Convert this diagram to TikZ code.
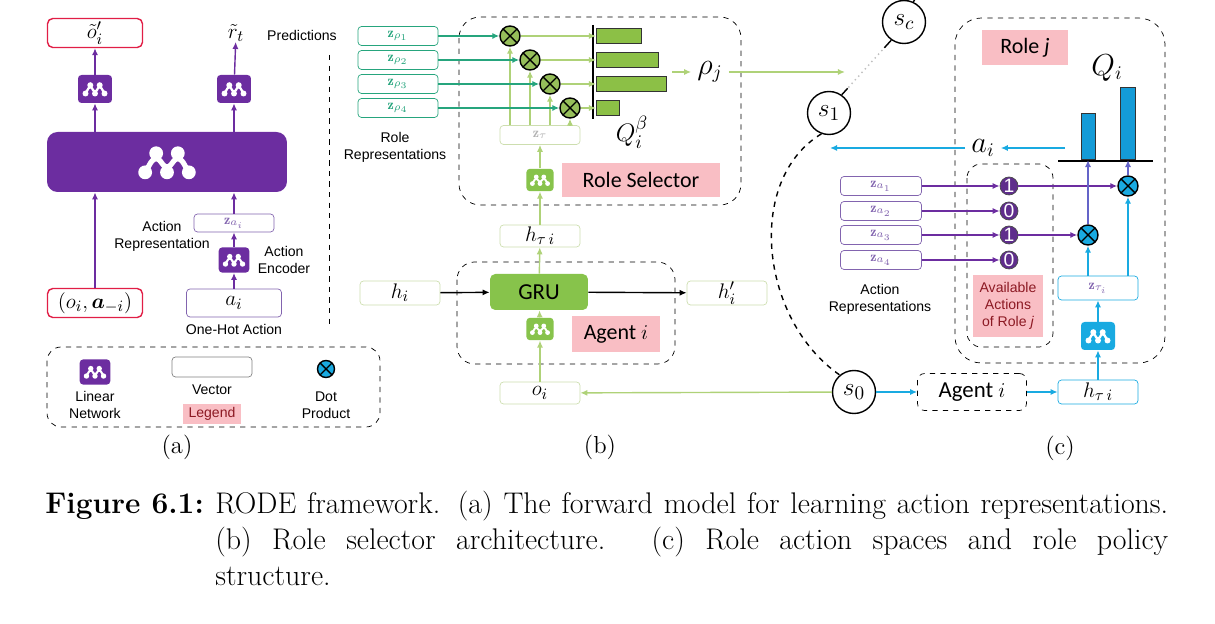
\documentclass[tikz,border=0pt]{standalone}
\usepackage{fontspec}
\usepackage{bm}
\newfontfamily\arialf{Liberation Sans}
\newfontfamily\calf{Carlito}
\usetikzlibrary{arrows.meta,calc}
\definecolor{rpurple}{RGB}{108,45,160}
\definecolor{rred}{RGB}{225,30,70}
\definecolor{rteal}{RGB}{38,165,125}
\definecolor{gdot}{RGB}{150,190,90}
\definecolor{ggreen}{RGB}{135,195,75}
\definecolor{lgreen}{RGB}{175,210,120}
\definecolor{gbord}{RGB}{205,222,175}
\definecolor{bgreen}{RGB}{140,192,70}
\definecolor{rcyan}{RGB}{25,170,225}
\definecolor{bblue}{RGB}{20,155,215}
\definecolor{rpink}{RGB}{249,190,196}
\definecolor{bitpurple}{RGB}{95,45,140}
\definecolor{zagray}{RGB}{130,100,175}
\definecolor{qblue}{RGB}{100,100,200}
\definecolor{lblred}{RGB}{140,25,35}
\newcommand{\mlogo}[1]{%
  \begin{scope}[shift={(path picture bounding box.center)}, white]
    \draw[line width=#1*1.3pt] (-9.5*#1, 4.5*#1) -- (-4.7*#1, -3.8*#1) -- (0, 4.5*#1) -- (4.7*#1, -3.8*#1) -- (9.5*#1, 4.5*#1);
    \foreach \lx/\ly in {-9.5/4.5, -4.7/-3.8, 0/4.5, 4.7/-3.8, 9.5/4.5}
      \fill (\lx*#1, \ly*#1) circle[radius=3*#1];
  \end{scope}}
\begin{document}
\begin{tikzpicture}[x=0.02cm, y=-0.02cm,
    lbl/.style={font=\arialf\fontsize{8}{9.6}\selectfont, align=center, inner sep=0pt},
    mth/.style={font=\fontsize{13}{15}\selectfont, inner sep=0pt},
    sub/.style={font=\fontsize{14}{16}\selectfont},
    vecbox/.style={draw=#1, rounded corners=2pt, fill=white, minimum width=1.6cm, minimum height=0.4cm, inner sep=0pt},
    redbox/.style={draw=rred, thick, rounded corners=3pt, minimum width=1.9cm, minimum height=0.58cm, inner sep=0pt, font=\fontsize{13}{15}\selectfont},
    lnet/.style 2 args={fill=#1, rounded corners=2pt, minimum width=#2*0.68cm, minimum height=#2*0.56cm, inner sep=0pt, path picture={\mlogo{#2}}},
    dotp/.style={circle, draw=black, thick, fill=#1, minimum size=0.4cm, inner sep=0pt, path picture={\draw[thick] (path picture bounding box.north west) -- (path picture bounding box.south east) (path picture bounding box.north east) -- (path picture bounding box.south west);}},
    bit/.style={circle, draw=black!70, fill=bitpurple, text=white, minimum size=0.36cm, inner sep=0pt, font=\arialf\fontsize{11}{11}\selectfont},
    pinklbl/.style={fill=rpink, inner sep=0pt, font=\calf\fontsize{12.5}{14}\selectfont},
    snode/.style={circle, draw, thick, minimum size=0.86cm, inner sep=0pt, font=\fontsize{15}{17}\selectfont},
    capt/.style={anchor=north west, inner sep=0pt, font=\fontsize{17}{20.4}\selectfont},
    parr/.style={draw=rpurple, thick, -{Latex[length=4pt, width=3.5pt]}},
    garr/.style={draw=lgreen, thick, -{Latex[length=4pt, width=3.5pt]}},
    tarr/.style={draw=rteal, thick, -{Latex[length=4pt, width=3.5pt]}},
    carr/.style={draw=rcyan, thick, -{Latex[length=4pt, width=3.5pt]}},
    qarr/.style={draw=qblue, thick, -{Latex[length=4pt, width=3.5pt]}},
    barr/.style={draw=black, thick, -{Latex[length=4pt, width=3.5pt]}}
  ]
\useasboundingbox (0, 0) rectangle (1215, 624);

\node (opred) at (95, 33)[redbox]{$\tilde{o}'_i$};
\node (rtil) at (236, 33)[mth]{$\tilde{r}_t$};
\node (predl) at (302, 35)[lbl]{Predictions};
\node (lna1) at (95, 89)[lnet={rpurple}{1}]{};
\node (lna2) at (234, 89)[lnet={rpurple}{1}]{};
\node (bignet) at (167, 162)[lnet={rpurple}{2.3}, minimum width=4.8cm, minimum height=1.2cm, rounded corners=6pt]{};
\node (zai) at (234, 223)[vecbox=zagray, minimum height=0.36cm, text=zagray]{\footnotesize$\mathbf{z}_{a_i}$};
\node (actrep) at (162, 236)[lbl]{Action\\Representation};
\node (enc) at (234, 260)[lnet={rpurple}{0.9}]{};
\node (encl) at (284, 260)[lbl]{Action\\Encoder};
\node (oa) at (95, 303)[redbox]{$(o_i, \bm{a}_{-i})$};
\node (ai) at (234, 303)[vecbox=zagray, minimum width=1.9cm, minimum height=0.56cm, font=\fontsize{13}{15}\selectfont]{$a_i$};
\node (onehot) at (234, 329)[lbl]{One-Hot Action};
\draw[parr] (oa) -- (oa |- bignet.south);
\draw[parr] (ai) -- (enc);
\draw[parr] (enc) -- (zai);
\draw[parr] (zai) -- (zai |- bignet.south);
\draw[parr] (lna1 |- bignet.north) -- (lna1);
\draw[parr] (lna2 |- bignet.north) -- (lna2);
\draw[parr] (lna1) -- (opred);
\draw[parr] (lna2) -- (rtil);
\draw[dashed] (329, 55) -- (329, 325);

\draw[dashed, rounded corners=8pt] (47, 347) rectangle (380, 427);
\node (lgnet) at (95, 372)[lnet={rpurple}{0.9}]{};
\node (lgnetl) at (95, 405)[lbl]{Linear\\Network};
\node (lgvec) at (212, 367)[vecbox=gray]{};
\node (lgvecl) at (212, 390)[lbl]{Vector};
\node (lglbl) at (212, 414)[fill=rpink, minimum width=1.16cm, minimum height=0.4cm, lbl, text=lblred]{Legend};
\node (lgdot) at (326, 369)[dotp=rcyan, minimum size=0.34cm]{};
\node (lgdotl) at (326, 405)[lbl]{Dot\\Product};
\node (laba) at (177, 447)[sub]{(a)};

\foreach \k/\y in {1/36, 2/60, 3/84, 4/108}
  \node (zr\k) at (398, \y)[vecbox=rteal, minimum height=0.38cm, text=rteal]{\footnotesize$\mathbf{z}_{\rho_\k}$};
\node (rolerep) at (395, 147)[lbl]{Role\\Representations};
\draw[dashed, rounded corners=12pt] (459, 17) rectangle (741, 205);
\foreach \k/\x/\y in {1/510/36, 2/530/60, 3/550/84, 4/570/108}
  \node (dp\k) at (\x, \y)[dotp=gdot]{};
\foreach \k/\y/\w in {1/36/45, 2/60/62, 3/84/70, 4/108/23}
  \node (bar\k) at (596, \y)[anchor=west, draw=black!80, fill=bgreen, minimum width=\w*0.02cm, minimum height=0.29cm, inner sep=0pt]{};
\draw[very thick] (593, 25) -- (593, 119);
\node (ztau) at (540, 135)[vecbox=gbord, text=black!30, minimum height=0.38cm]{\footnotesize$\mathbf{z}_\tau$};
\foreach \k in {1,...,4}
  {
    \draw[tarr] (zr\k) -- (dp\k);
    \draw[garr] (dp\k) -- (bar\k.west);
    \draw[garr] (dp\k |- ztau.north) -- (dp\k);
  }
\node (qb) at (632, 132)[font=\fontsize{15}{17}\selectfont]{$Q_i^\beta$};
\node (rhoj) at (710, 72)[font=\fontsize{16}{18}\selectfont]{$\rho_j$};
\coordinate (qout) at (672, 72);
\coordinate (rhoend) at (845, 72);
\draw[garr] (qout) -- (rhoj);
\draw[garr] (rhoj) -- (rhoend);
\node (lnb1) at (540, 180)[lnet={ggreen}{0.8}]{};
\node (rsel) at (641, 180)[pinklbl, minimum width=3.16cm, minimum height=0.68cm]{Role Selector};
\node (htau) at (540, 236)[vecbox=gbord, minimum height=0.44cm, mth]{$h_{\tau\,i}$};
\draw[dashed, rounded corners=10pt] (457, 262) rectangle (675, 364);
\node (gru) at (539, 292)[fill=ggreen, rounded corners=3pt, minimum width=1.96cm, minimum height=0.72cm, font=\calf\fontsize{13}{15}\selectfont]{GRU};
\node (hi) at (400, 293)[vecbox=gbord, minimum height=0.48cm, mth]{$h_i$};
\node (hpi) at (727, 293)[vecbox=gbord, minimum height=0.48cm, mth]{$h'_i$};
\node (lnb2) at (540, 329)[lnet={ggreen}{0.8}]{};
\node (agb) at (616, 334)[pinklbl, minimum width=1.76cm, minimum height=0.72cm]{Agent $i$};
\node (oi) at (540, 393)[vecbox=gbord, minimum height=0.44cm, mth]{$o_i$};
\draw[barr] (hi) -- (gru);
\draw[barr] (gru) -- (hpi);
\draw[garr] (oi) -- (lnb2);
\draw[garr] (lnb2) -- (gru);
\draw[garr] (gru) -- (htau);
\draw[garr] (htau) -- (lnb1);
\draw[garr] (lnb1) -- (ztau);
\node (labb) at (600, 447)[sub]{(b)};

\node (sc) at (904, 22)[snode]{$s_c$};
\node (s1) at (829, 113)[snode]{$s_1$};
\node (s0) at (854, 392)[snode]{$s_0$};
\draw[garr] (s0) -- (oi);
\draw[thick] (sc.65) -- ++(4, -7);
\draw[gray!50, thick, dotted] (s1.55) -- (sc.235);
\draw[thick] (sc.235) -- ($(sc.235)!0.14!(s1.55)$);
\draw[thick] (s1.55) -- ($(s1.55)!0.12!(sc.235)$);
\draw[thick, dashed] (s1.250) .. controls (745, 180) and (760, 320) .. (s0.130);
\draw[dashed, rounded corners=15pt] (955, 18) rectangle (1165, 363);
\node (rolej) at (1025, 48)[pinklbl, minimum width=1.72cm, minimum height=0.7cm]{Role \textit{j}};
\node (qi) at (1107, 68)[font=\fontsize{16}{18}\selectfont]{$Q_i$};
\node (bq1) at (1088, 160)[anchor=south, draw=black!80, fill=bblue, minimum width=0.28cm, minimum height=0.92cm, inner sep=0pt]{};
\node (bq2) at (1128, 160)[anchor=south, draw=black!80, fill=bblue, minimum width=0.3cm, minimum height=1.44cm, inner sep=0pt]{};
\draw[very thick] (1058, 161) -- (1153, 161);
\node (aic) at (983, 148)[font=\fontsize{16}{18}\selectfont]{$a_i$};
\coordinate (qiout) at (1065, 148);
\coordinate (aend) at (830, 148);
\draw[carr] (qiout) -- (aic);
\draw[carr] (aic) -- (aend);
\draw[dashed, rounded corners=8pt] (967, 164) rectangle (1053, 347);
\foreach \k/\y/\v in {1/186/1, 2/211/0, 3/235/1, 4/260/0}
  {
    \node (za\k) at (881, \y)[vecbox=zagray, minimum width=1.62cm, minimum height=0.38cm, text=zagray]{\footnotesize$\mathbf{z}_{a_\k}$};
    \node (bt\k) at (1009, \y)[bit]{\v};
    \draw[parr] (za\k) -- (bt\k);
  }
\node (actreps) at (880, 299)[lbl]{Action\\Representations};
\node (avail) at (1008, 306)[fill=rpink, minimum width=1.4cm, minimum height=1.24cm, lbl, text=lblred]{Available\\Actions\\of Role \textit{j}};
\node (dc1) at (1128, 186)[dotp=rcyan]{};
\node (dc3) at (1088, 235)[dotp=rcyan]{};
\draw[parr] (bt1) -- (dc1);
\draw[parr] (bt3) -- (dc3);
\node (ztaui) at (1098, 288)[vecbox=rcyan, minimum height=0.48cm, text=zagray]{\footnotesize$\mathbf{z}_{\tau_i}$};
\draw[carr] (dc3 |- ztaui.north) -- (dc3);
\draw[carr] (dc1 |- ztaui.north) -- (dc1);
\draw[qarr] (dc3) -- (bq1.south);
\draw[qarr] (dc1) -- (bq2.south);
\node (lnc) at (1098, 336)[lnet={rcyan}{1}]{};
\node (htaui) at (1098, 392)[vecbox=rcyan, minimum height=0.48cm, mth]{$h_{\tau\,i}$};
\node (agc) at (972, 392)[draw, dashed, rounded corners=4pt, minimum width=2.18cm, minimum height=0.74cm, font=\calf\fontsize{13}{15}\selectfont]{Agent $i$};
\draw[carr] (s0) -- (agc);
\draw[carr] (agc) -- (htaui);
\draw[carr] (htaui) -- (lnc);
\draw[carr] (lnc) -- (ztaui);
\node (labc) at (1060, 448)[sub]{(c)};

\node (capfig) at (45, 488)[capt]{\strut\textbf{Figure 6.1:}};
\node (captxt) at (215, 488)[capt, text width=19.06cm, align=justify]{\strut RODE framework. (a) The forward model for learning action representations.\linebreak (b) Role selector architecture. (c) Role action spaces and role policy\linebreak structure.};
\end{tikzpicture}
\end{document}
